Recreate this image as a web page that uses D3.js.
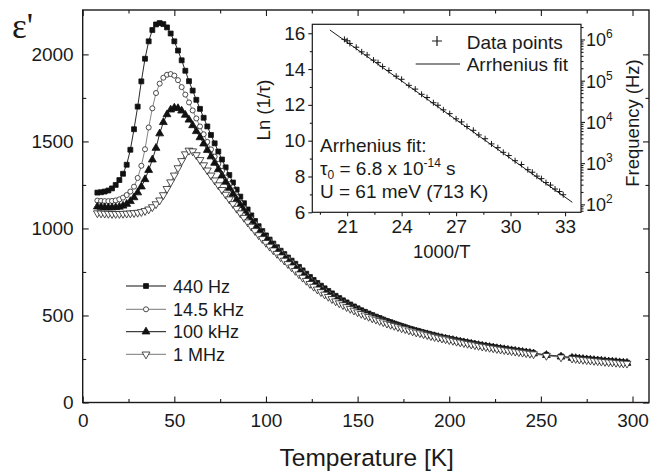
<!DOCTYPE html>
<html>
<head>
<meta charset="utf-8">
<script src="https://cdn.jsdelivr.net/npm/d3@7"></script>
<style>
body { margin: 0; background: #fff; }
svg { font-family: "Liberation Sans", Arial, sans-serif; }
</style>
</head>
<body>
<script>
/* ===== data ===== */
// temperature grid [K], shared by the four frequency curves
var temps = [8,10,12,14,16,18,20,22,24,26,
    28,30,32,34,36,38,40,42,44,46,
    48,50,52,54,56,58,60,62,64,66,
    68,70,72,74,76,78,80,82,84,86,
    88,90,92,94,96,98,100,102,104,106,
    108,110,112,114,116,118,120,122,124,126,
    128,130,132,134,136,138,140,142,144,146,
    148,150,152,154,156,158,160,162,164,166,
    168,170,172,174,176,178,180,182,184,186,
    188,190,192,194,196,198,200,202,204,206,
    208,210,212,214,216,218,220,222,224,226,
    228,230,232,234,236,238,240,242,244,246,
    253,261,267,269,271,273,275,277,279,281,
    283,285,287,289,291,293,295,297];

var eps440Hz = [1206,1208,1212,1218,1230,1250,1278,1314,1366,1452,
    1570,1700,1845,1975,2075,2140,2172,2180,2174,2155,
    2120,2075,2022,1966,1906,1846,1792,1739,1687,1636,
    1586,1537,1489,1442,1396,1351,1307,1264,1223,1183,
    1145,1109,1075,1043,1013,985,960,936,913,892,
    872,853,833,815,797,779,759,740,721,704,
    687,671,656,641,627,613,600,587,575,563,
    552,541,530,521,511,502,493,485,476,468,
    461,453,446,439,432,425,419,413,407,401,
    396,390,385,379,374,370,365,361,356,352,
    348,344,340,336,332,328,325,321,318,314,
    311,308,304,301,298,295,292,289,286,283,
    274,265,258,256,253,251,249,247,245,243,
    241,239,237,236,234,232,230,229];

var eps14kHz = [1160,1158,1157,1157,1158,1161,1167,1177,1192,1212,
    1240,1290,1360,1455,1580,1690,1778,1832,1866,1883,
    1887,1878,1852,1812,1769,1724,1678,1632,1586,1541,
    1497,1454,1412,1371,1331,1292,1254,1218,1183,1149,
    1117,1086,1056,1028,1001,976,952,929,907,886,
    866,846,826,806,787,768,748,729,710,693,
    676,661,645,631,617,603,591,579,567,556,
    545,535,524,515,506,497,489,480,472,464,
    457,450,443,436,430,423,417,410,405,399,
    394,388,383,378,373,369,364,359,354,350,
    346,342,338,334,330,326,323,319,316,312,
    309,306,303,300,297,294,291,288,285,282,
    273,264,257,255,252,250,248,246,244,242,
    240,238,236,235,233,231,229,228];

var eps100kHz = [1125,1123,1121,1120,1120,1121,1124,1130,1140,1156,
    1178,1206,1240,1282,1335,1395,1462,1545,1610,1655,
    1682,1693,1690,1676,1652,1624,1592,1558,1523,1487,
    1450,1413,1376,1339,1303,1267,1232,1198,1165,1133,
    1102,1072,1043,1016,990,965,944,920,897,875,
    854,834,814,794,775,757,737,718,700,683,
    666,651,636,622,608,595,583,571,560,549,
    538,528,518,509,500,491,483,476,468,460,
    453,446,439,432,426,419,413,407,402,396,
    391,385,380,375,370,366,362,358,353,349,
    345,341,337,333,329,325,322,318,315,311,
    308,305,302,299,296,293,290,287,284,281,
    272,263,256,254,251,249,247,245,243,241,
    239,237,235,234,232,230,228,227];

var eps1MHz = [1088,1087,1086,1085,1084,1084,1084,1085,1086,1087,
    1089,1091,1095,1101,1110,1123,1140,1162,1192,1228,
    1266,1305,1347,1388,1427,1448,1444,1422,1394,1364,
    1334,1305,1277,1249,1222,1195,1168,1141,1114,1088,
    1062,1036,1011,986,962,940,918,896,875,855,
    835,816,796,777,757,737,718,700,682,666,
    650,635,621,608,595,582,571,560,549,539,
    529,519,510,501,493,484,477,469,462,454,
    447,441,434,427,422,415,409,403,399,393,
    388,382,377,373,368,364,359,355,350,346,
    342,338,334,330,326,322,319,315,312,308,
    305,302,299,296,293,290,287,284,281,278,
    269,260,253,251,248,246,244,242,240,238,
    236,234,232,231,229,227,225,224];

var seriesNames = ["440 Hz", "14.5 kHz", "100 kHz", "1 MHz"];

// inset: Arrhenius plot
var arrX = [20.85,21.0,21.15,21.5,21.8,22.1,22.45,22.7,22.95,23.3,
    23.7,24.0,24.4,24.75,25.1,25.4,25.75,26.0,26.3,26.65,
    27.0,27.3,27.6,27.95,28.25,28.6,28.95,29.3,29.6,29.9,
    30.25,30.6,30.95,31.2,31.45,31.7,31.95,32.2,32.45,32.7,32.9];
var arrY = [15.66,15.58,15.43,15.22,14.96,14.79,14.50,14.36,14.14,13.92,
    13.60,13.43,13.09,12.88,12.59,12.41,12.12,11.98,11.72,11.51,
    11.22,11.05,10.79,10.58,10.32,10.11,9.82,9.61,9.35,9.17,
    8.88,8.67,8.38,8.24,8.02,7.88,7.66,7.52,7.30,7.16,6.98];
var fitX = [20.05, 33.4];
var fitY = [16.18, 6.56];

// tick values
var xMajor = [0,50,100,150,200,250,300];
var xMinor = [25,75,125,175,225,275];
var yMajor = [0,500,1000,1500,2000];
var yMinor = [250,750,1250,1750];
var insXMajor = [21,24,27,30,33];
var insXMinor = [19.5,22.5,25.5,28.5,31.5];
var insYMajor = [6,8,10,12,14,16];
var insYMinor = [7,9,11,13,15];
var freqMajor = [1e2,1e3,1e4,1e5,1e6];

/* ===== svg ===== */
var w = 661, h = 474;
var svg = d3.select("body").append("svg")
    .attr("width", w)
    .attr("height", h);

// plot box (window.top is read-only, so no "top" here)
var pL = 82.7, pR = 649, pT = 10, pB = 402.5;
var xScale = d3.scaleLinear().domain([0, 309]).range([pL, pR]);
var yScale = d3.scaleLinear().domain([0, 2255]).range([pB, pT]);
var plain = d3.format("d");

function styleAxis(g, fontSize) {
    g.select(".domain").remove();
    g.selectAll(".tick line").attr("stroke", "#1a1a1a").attr("stroke-width", 1.1);
    g.selectAll(".tick text").attr("fill", "#1a1a1a")
        .attr("font-size", fontSize)
        .attr("font-family", "Liberation Sans, Arial, sans-serif");
}

function addAxis(axis, tx, ty, fontSize) {
    var g = svg.append("g")
        .attr("transform", "translate(" + tx + "," + ty + ")")
        .call(axis);
    styleAxis(g, fontSize);
    return g;
}

/* ===== main axes, ticks pointing inwards ===== */
addAxis(d3.axisBottom(xScale).tickValues(xMajor).tickFormat(plain).tickSize(-6).tickSizeOuter(0).tickPadding(11), 0, pB, "19px");
addAxis(d3.axisBottom(xScale).tickValues(xMinor).tickSize(-3.5).tickSizeOuter(0).tickFormat(""), 0, pB, "19px");
addAxis(d3.axisTop(xScale).tickValues(xMajor).tickSize(-6).tickSizeOuter(0).tickFormat(""), 0, pT, "19px");
addAxis(d3.axisTop(xScale).tickValues(xMinor).tickSize(-3.5).tickSizeOuter(0).tickFormat(""), 0, pT, "19px");
addAxis(d3.axisLeft(yScale).tickValues(yMajor).tickFormat(plain).tickSize(-6).tickSizeOuter(0).tickPadding(9), pL, 0, "19px");
addAxis(d3.axisLeft(yScale).tickValues(yMinor).tickSize(-3.5).tickSizeOuter(0).tickFormat(""), pL, 0, "19px");
addAxis(d3.axisRight(yScale).tickValues(yMajor).tickSize(-6).tickSizeOuter(0).tickFormat(""), pR, 0, "19px");
addAxis(d3.axisRight(yScale).tickValues(yMinor).tickSize(-3.5).tickSizeOuter(0).tickFormat(""), pR, 0, "19px");

svg.append("rect")
    .attr("x", pL).attr("y", pT)
    .attr("width", pR - pL).attr("height", pB - pT)
    .attr("fill", "none")
    .attr("stroke", "#1a1a1a")
    .attr("stroke-width", 1.4);

// axis titles
svg.append("text")
    .attr("x", 366.7).attr("y", 466)
    .attr("text-anchor", "middle")
    .attr("font-size", "24.5px")
    .attr("fill", "#1a1a1a")
    .text("Temperature [K]");

svg.append("text")
    .attr("x", 12).attr("y", 38)
    .attr("font-family", "Liberation Serif, serif")
    .attr("font-size", "35px")
    .attr("fill", "#1a1a1a")
    .text("\u03b5'");

/* ===== the four curves ===== */
var markerStyles = [
    {type: d3.symbolSquare, size: 24, fill: "#111", stroke: "#111", line: "#111", rot: 0},
    {type: d3.symbolCircle, size: 20, fill: "#fff", stroke: "#222", line: "#777", rot: 0},
    {type: d3.symbolTriangle, size: 27, fill: "#111", stroke: "#111", line: "#111", rot: 0},
    {type: d3.symbolTriangle, size: 27, fill: "#fff", stroke: "#222", line: "#777", rot: 180}
];
var allSeries = [eps440Hz, eps14kHz, eps100kHz, eps1MHz];

function drawSeries(values, st) {
    var line = d3.line()
        .x(function (d, i) { return xScale(temps[i]); })
        .y(function (d) { return yScale(d); });
    svg.append("path")
        .datum(values)
        .attr("fill", "none")
        .attr("stroke", st.line)
        .attr("stroke-width", 0.9)
        .attr("d", line);
    svg.append("g").selectAll("path")
        .data(values)
        .enter().append("path")
        .attr("transform", function (d, i) {
            return "translate(" + xScale(temps[i]) + "," + yScale(d) + ") rotate(" + st.rot + ")";
        })
        .attr("d", d3.symbol().type(st.type).size(st.size))
        .attr("fill", st.fill)
        .attr("stroke", st.stroke)
        .attr("stroke-width", 0.8);
}

for (var s = 0; s < allSeries.length; s++) {
    drawSeries(allSeries[s], markerStyles[s]);
}

// legend
var legY = [286, 309.3, 331.7, 354.3];
for (var k = 0; k < seriesNames.length; k++) {
    var st = markerStyles[k];
    svg.append("line")
        .attr("x1", 126).attr("x2", 166)
        .attr("y1", legY[k]).attr("y2", legY[k])
        .attr("stroke", st.line)
        .attr("stroke-width", 1);
    svg.append("path")
        .attr("transform", "translate(146," + legY[k] + ") rotate(" + st.rot + ")")
        .attr("d", d3.symbol().type(st.type).size(st.size))
        .attr("fill", st.fill)
        .attr("stroke", st.stroke)
        .attr("stroke-width", 0.8);
    svg.append("text")
        .attr("x", 173).attr("y", legY[k] + 6.5)
        .attr("font-size", "18px")
        .attr("fill", "#1a1a1a")
        .text(seriesNames[k]);
}

/* ===== inset ===== */
var iL = 312.3, iR = 581, iT = 24.3, iB = 212.3;
var ix = d3.scaleLinear().domain([19.08, 33.88]).range([iL, iR]);
var iy = d3.scaleLinear().domain([6, 16.5]).range([iB, iT]);
var fScale = d3.scaleLog()
    .domain([Math.exp(6) / (2 * Math.PI), Math.exp(16.5) / (2 * Math.PI)])
    .range([iB, iT]);

svg.append("rect")
    .attr("x", iL).attr("y", iT)
    .attr("width", iR - iL).attr("height", iB - iT)
    .attr("fill", "#fff")
    .attr("stroke", "#1a1a1a")
    .attr("stroke-width", 1.2);

addAxis(d3.axisBottom(ix).tickValues(insXMajor).tickSize(4).tickSizeOuter(0).tickPadding(3), 0, iB, "19px");
addAxis(d3.axisBottom(ix).tickValues(insXMinor).tickSize(2.5).tickSizeOuter(0).tickFormat(""), 0, iB, "19px");
addAxis(d3.axisLeft(iy).tickValues(insYMajor).tickSize(4).tickSizeOuter(0).tickPadding(3), iL, 0, "19px");
addAxis(d3.axisLeft(iy).tickValues(insYMinor).tickSize(2.5).tickSizeOuter(0).tickFormat(""), iL, 0, "19px");
addAxis(d3.axisRight(fScale).tickValues(freqMajor).tickSize(4).tickSizeOuter(0).tickFormat(""), iR, 0, "19px");

// minor log ticks on the frequency axis
var fMinor = [];
var fDom = fScale.domain();
for (var dec = 1; dec <= 6; dec++) {
    for (var m = 2; m <= 9; m++) {
        var v = m * Math.pow(10, dec);
        if (v > fDom[0] && v < fDom[1]) fMinor.push(v);
    }
}
addAxis(d3.axisRight(fScale).tickValues(fMinor).tickSize(2.5).tickSizeOuter(0).tickFormat(""), iR, 0, "19px");

// 10^n labels
var expLabels = svg.append("g").selectAll("text")
    .data(freqMajor)
    .enter().append("text")
    .attr("x", 586)
    .attr("y", function (d) { return fScale(d) + 7; })
    .attr("font-size", "18px")
    .attr("fill", "#1a1a1a");
expLabels.append("tspan").text("10");
expLabels.append("tspan")
    .attr("dy", -8)
    .attr("font-size", "12px")
    .text(function (d) { return Math.round(Math.log10(d)); });

// fit line and data points
var fitLine = d3.line()
    .x(function (d, i) { return ix(fitX[i]); })
    .y(function (d) { return iy(d); });
svg.append("path")
    .datum(fitY)
    .attr("fill", "none")
    .attr("stroke", "#1a1a1a")
    .attr("stroke-width", 1)
    .attr("d", fitLine);

var plusPath = "M-3,0H3M0,-3V3";
svg.append("g").selectAll("path")
    .data(arrY)
    .enter().append("path")
    .attr("transform", function (d, i) { return "translate(" + ix(arrX[i]) + "," + iy(d) + ")"; })
    .attr("d", plusPath)
    .attr("stroke", "#1a1a1a")
    .attr("stroke-width", 1);

// inset legend
svg.append("path")
    .attr("transform", "translate(437,41)")
    .attr("d", "M-5,0H5M0,-5V5")
    .attr("stroke", "#1a1a1a")
    .attr("stroke-width", 1.2);
svg.append("text")
    .attr("x", 466.7).attr("y", 48.5)
    .attr("font-size", "19px").attr("fill", "#1a1a1a")
    .text("Data points");
svg.append("line")
    .attr("x1", 415.7).attr("x2", 460)
    .attr("y1", 64).attr("y2", 64)
    .attr("stroke", "#1a1a1a").attr("stroke-width", 1);
svg.append("text")
    .attr("x", 466.7).attr("y", 70.7)
    .attr("font-size", "19px").attr("fill", "#1a1a1a")
    .text("Arrhenius fit");

// fit parameters
svg.append("text")
    .attr("x", 320).attr("y", 151.5)
    .attr("font-size", "19px").attr("fill", "#1a1a1a")
    .text("Arrhenius fit:");
var tauText = svg.append("text")
    .attr("x", 320).attr("y", 175)
    .attr("font-size", "19px").attr("fill", "#1a1a1a");
tauText.append("tspan").text("\u03c4");
tauText.append("tspan").attr("dy", 4).attr("font-size", "12px").text("0");
tauText.append("tspan").attr("dy", -4).text(" = 6.8 x 10");
tauText.append("tspan").attr("dy", -8).attr("font-size", "12px").text("-14");
tauText.append("tspan").attr("dy", 8).text(" s");
svg.append("text")
    .attr("x", 320).attr("y", 198)
    .attr("font-size", "19px").attr("fill", "#1a1a1a")
    .text("U = 61 meV (713 K)");

// inset axis titles
svg.append("text")
    .attr("x", 441.7).attr("y", 257.5)
    .attr("text-anchor", "middle")
    .attr("font-size", "18.5px").attr("fill", "#1a1a1a")
    .text("1000/T");
svg.append("text")
    .attr("transform", "translate(270,110) rotate(-90)")
    .attr("text-anchor", "middle")
    .attr("font-size", "18.5px").attr("fill", "#1a1a1a")
    .text("Ln (1/\u03c4)");
svg.append("text")
    .attr("transform", "translate(639,123) rotate(-90)")
    .attr("text-anchor", "middle")
    .attr("font-size", "18.5px").attr("fill", "#1a1a1a")
    .text("Frequency (Hz)");
</script>
</body>
</html>
